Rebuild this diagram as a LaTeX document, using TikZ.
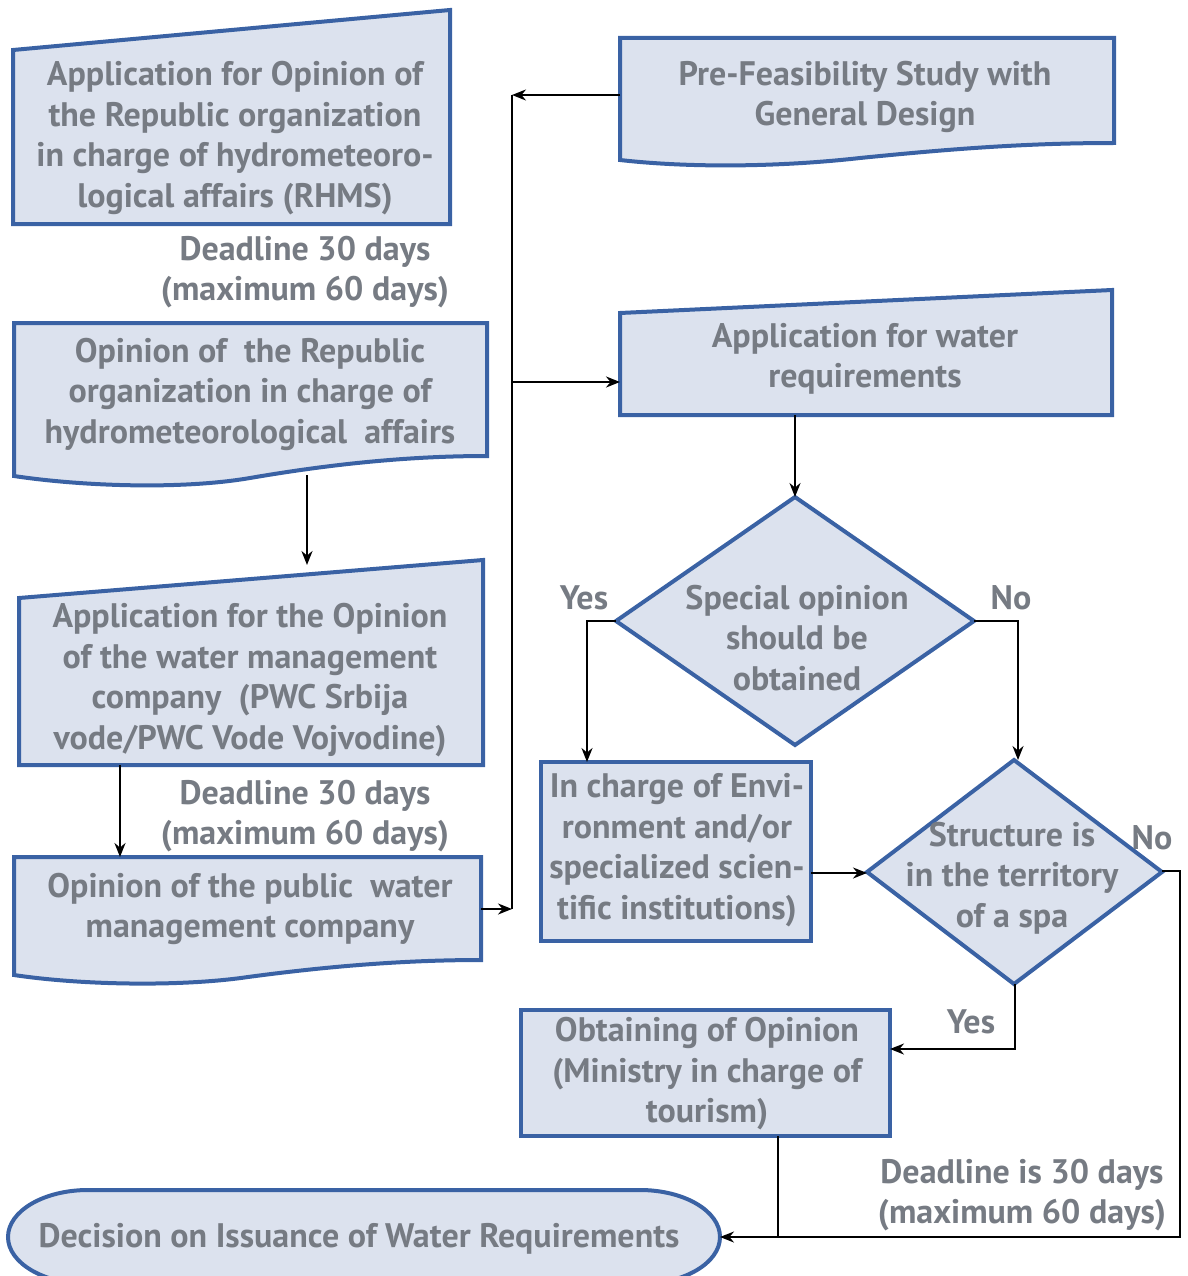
\documentclass[tikz,border=0pt]{standalone}
\usepackage{fontspec}
\setmainfont{PT Sans}
\usetikzlibrary{arrows.meta}
\definecolor{bblue}{HTML}{3A62A4}
\definecolor{bfill}{HTML}{DCE2EE}
\definecolor{tgray}{HTML}{767B83}
\tikzset{
  box/.style={draw=bblue, line width=4pt, fill=bfill, line join=miter},
  wtxt/.style={text=tgray, align=center, inner sep=0pt, font=\bfseries\fontsize{34}{40.5}\selectfont},
  ctxt/.style={wtxt},
  arr/.style={-{Stealth[length=14pt,width=11pt]}, line width=2pt, black},
  ln/.style={line width=2pt, black}
}
\begin{document}
\begin{tikzpicture}[x=1pt,y=-1pt]
\useasboundingbox (0,0) rectangle (1187,1276);
\clip (0,0) rectangle (1187,1276);
% shapes
\draw[box] (13,50) -- (450,10) -- (450,224) -- (13,224) -- cycle;
\draw[box] (14,323) -- (487,323) -- (487,456) .. controls (400,456) and (320,466) .. (250,478) .. controls (180,490) and (80,486) .. (14,476) -- cycle;
\draw[box] (19,598) -- (483,560) -- (483,765) -- (19,765) -- cycle;
\draw[box] (14,857) -- (481,857) -- (481,960) .. controls (395,960) and (315,968) .. (248,977) .. controls (180,987) and (80,985) .. (14,975) -- cycle;
\draw[box] (620,38) -- (1114,38) -- (1114,143) .. controls (1020,143) and (940,150) .. (860,158) .. controls (780,167) and (690,168) .. (620,160) -- cycle;
\draw[box] (620,313) -- (1112,290) -- (1112,415) -- (620,415) -- cycle;
\draw[box] (795,497) -- (974,621) -- (795,745) -- (616,621) -- cycle;
\draw[box] (541,762) rectangle (811,941);
\draw[box] (1014,760) -- (1162,872) -- (1014,984) -- (867,872) -- cycle;
\draw[box] (521,1010) rectangle (890,1136);
\draw[box] (88,1190) -- (640,1190) arc[start angle=-90,end angle=90,x radius=80,y radius=47] -- (88,1284) arc[start angle=90,end angle=270,x radius=80,y radius=47] -- cycle;
% texts
\node[wtxt] (t1) at (235,138) {Application for Opinion of\\the Republic organization\\in charge of hydrometeoro-\\logical affairs (RHMS)};
\node[wtxt] (dl1) at (305,272) {Deadline 30 days\\(maximum 60 days)};
\node[wtxt] (t2) at (250,394) {Opinion of\ \ the Republic\\organization in charge of\\hydrometeorological\ \ affairs};
\node[wtxt] (t3) at (250,680) {Application for the Opinion\\of the water management\\company\ \ (PWC Srbija\\vode/PWC Vode Vojvodine)};
\node[wtxt] (dl2) at (305,816) {Deadline 30 days\\(maximum 60 days)};
\node[wtxt] (t4) at (250,909) {Opinion of the public\ \ water\\management company};
\node[ctxt] (pre) at (865,97) {Pre-Feasibility Study with\\General Design};
\node[ctxt] (appw) at (865,359) {Application for water\\requirements};
\node[ctxt] (d1) at (797,638) {Special opinion\\should be\\obtained};
\node[ctxt] (inc) at (677,850) {In charge of Envi-\\ronment and/or\\specialized scien-\\tific institutions)};
\node[ctxt] (d2) at (1012,878) {Structure is\\in the territory\\of a spa};
\node[ctxt] (obt) at (707,1074) {Obtaining of Opinion\\(Ministry in charge of\\tourism)};
\node[ctxt] (dl3) at (1022,1195) {Deadline is 30 days\\(maximum 60 days)};
\node[ctxt] (dec) at (359,1239) {Decision on Issuance of Water Requirements};
\node[ctxt] (yes1) at (584,598) {Yes};
\node[ctxt] (no1) at (1011,598) {No};
\node[ctxt] (no2) at (1152,838) {No};
\node[ctxt] (yes2) at (971,1022) {Yes};
% anchor coordinates
\coordinate (preL) at (620,95);
\coordinate (busT) at (512,95);
\coordinate (busM) at (512,382);
\coordinate (appwL) at (620,382);
\coordinate (t4R) at (481,909);
\coordinate (busB) at (512,909);
\coordinate (t2B) at (307,475);
\coordinate (t3T) at (307,565);
\coordinate (t3B) at (120,765);
\coordinate (t4T) at (120,857);
\coordinate (appwB) at (795,415);
\coordinate (d1T) at (795,497);
\coordinate (d1L) at (616,621);
\coordinate (d1R) at (974,621);
\coordinate (incT) at (587,762);
\coordinate (d2T) at (1018,760);
\coordinate (incR) at (811,873);
\coordinate (d2L) at (867,873);
\coordinate (d2R) at (1162,871);
\coordinate (d2B) at (1015,984);
\coordinate (obtR) at (890,1049);
\coordinate (obtB) at (778,1136);
\coordinate (join) at (778,1237);
\coordinate (decR) at (720,1237);
% connectors
\draw[arr] (preL) -- (busT);
\draw[ln] (busT) -- (busB);
\draw[arr] (busM) -- (appwL);
\draw[arr] (t4R) -- (busB);
\draw[arr] (t2B) -- (t3T);
\draw[arr] (t3B) -- (t4T);
\draw[arr] (appwB) -- (d1T);
\draw[arr] (d1L) -| (incT);
\draw[arr] (d1R) -| (d2T);
\draw[arr] (incR) -- (d2L);
\draw[arr] (d2R) -- (1180,871) |- (decR);
\draw[arr] (d2B) |- (obtR);
\draw[ln] (obtB) -- (join);
\end{tikzpicture}
\end{document}
